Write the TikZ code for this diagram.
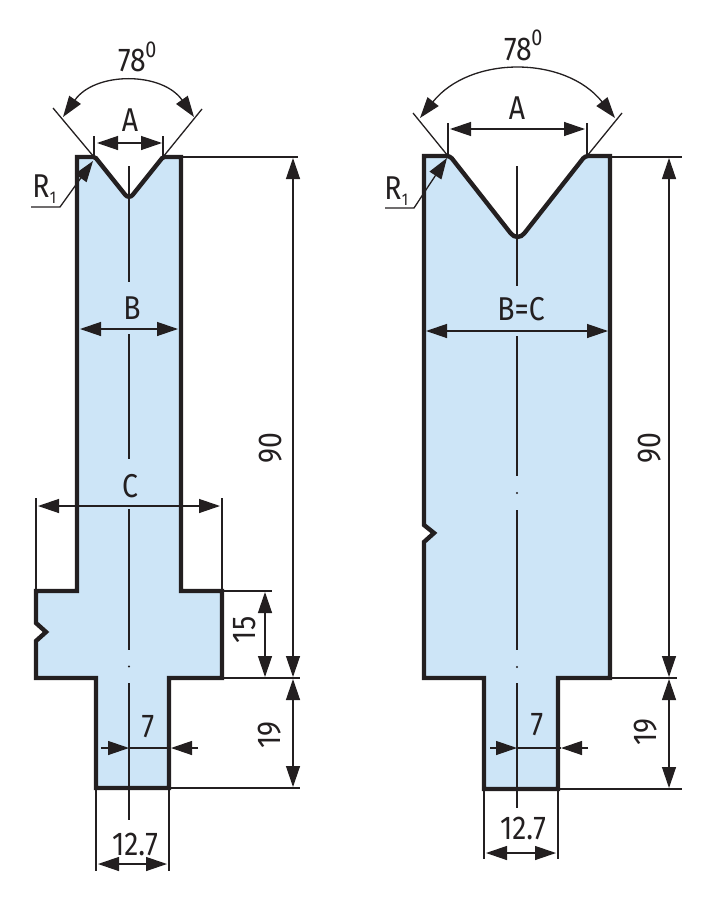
\documentclass[tikz,border=0pt]{standalone}
\usepackage{fontspec}
\setmainfont[FakeStretch=0.86]{Fira Sans}
\usetikzlibrary{arrows.meta}
\definecolor{ink}{HTML}{231F20}
\definecolor{toolblue}{HTML}{CDE5F7}
\tikzset{
  x=1pt,y=-1pt,
  outline/.style={draw=ink,fill=toolblue,line width=4.4pt,line join=miter,miter limit=10},
  thin line/.style={draw=ink,line width=1.3pt},
  dim both/.style={thin line,{Triangle[length=21pt,width=14pt]}-{Triangle[length=21pt,width=14pt]}},
  dim end/.style={thin line,-{Triangle[length=21pt,width=14pt]}},
  label/.style={inner sep=0pt,text=ink,font=\fontsize{33}{33}\selectfont},
  deglabel/.style={inner sep=0pt,text=ink,font=\fontsize{23}{23}\selectfont},
  sublabel/.style={inner sep=0pt,text=ink,font=\fontsize{17}{17}\selectfont},
  centre dot/.style={fill=ink,circle,inner sep=0pt,minimum size=2.2pt},
}
\begin{document}
\begin{tikzpicture}
\useasboundingbox (0,0) rectangle (712,902);
% ---------- left tool ----------
\draw[outline] (77,157) -- (94,157)
  [rounded corners=1.5pt] -- (95,157) [rounded corners=6pt] -- (129,199.5) [rounded corners=1.5pt] -- (163,157) [sharp corners]
  -- (181,157) -- (181,591) -- (222,591) -- (222,678) -- (169,678) -- (169,788) -- (96,788) -- (96,678)
  -- (36,678) -- (36,641) -- (46,632) -- (36,623) -- (36,591) -- (77,591) -- cycle;
% centre line
\draw[thin line] (129,166) -- (129,282);
\draw[thin line] (129,334) -- (129,459);
\draw[thin line] (129,509) -- (129,650);
\node[centre dot] (ldot) at (129,666.5) {};
\draw[thin line] (129,683) -- (129,820);
% angle
\draw[thin line] (53,108) -- (94,157);
\draw[thin line] (202,109) -- (163,157);
\draw[dim both] (63,117) .. controls (95,71.5) and (162,71.5) .. (194,117);
% A
\draw[thin line] (94,136) -- (94,157);
\draw[thin line] (163,136) -- (163,157);
\draw[dim both] (97,143) -- (162,143);
% R1
\draw[dim end] (31,207) -- (60,207) -- (93,161);
% B, C
\draw[dim both] (80,329) -- (178,329);
\draw[dim both] (38,506) -- (220,506);
\draw[thin line] (36,498) -- (36,590);
\draw[thin line] (222,498) -- (222,590);
% right dimensions
\draw[thin line] (181,157) -- (298,157);
\draw[thin line] (222,591) -- (272,591);
\draw[thin line] (222,678) -- (300,678);
\draw[thin line] (169,788) -- (300,788);
\draw[dim both] (293,158) -- (293,677);
\draw[dim both] (265,592) -- (265,677);
\draw[dim both] (293,679) -- (293,787);
% 7
\draw[dim end] (101,748) -- (129,748);
\draw[thin line] (129,748) -- (171,748);
\draw[dim end] (198,748) -- (171,748);
% 12.7
\draw[thin line] (96,790) -- (96,871);
\draw[thin line] (169,790) -- (169,871);
\draw[dim both] (98,864) -- (167,864);
% labels
\node[label] (l78) at (132,60) {78};
\node[deglabel] (l78o) at (151,50) {0};
\node[label] (lA) at (130,120) {A};
\node[label] (lR) at (41,186) {R};
\node[sublabel] (lR1) at (53,198) {1};
\node[label] (lB) at (132,308) {B};
\node[label] (lC) at (130,486) {C};
\node[label] (l7) at (148,727) {7};
\node[label] (l127) at (135,844) {12.7};
\node[label,rotate=90] (l90) at (271,448) {90};
\node[label,rotate=90] (l15) at (245,630) {15};
\node[label,rotate=90] (l19) at (270,735) {19};
% ---------- right tool ----------
\draw[outline] (424,156) -- (447,156)
  [rounded corners=3pt] -- (450,156) [rounded corners=11pt] -- (517.5,242) [rounded corners=3pt] -- (585,156) [sharp corners]
  -- (610,156) -- (610,678) -- (558,678) -- (558,789) -- (484,789) -- (484,678)
  -- (424,678) -- (424,542) -- (434,533) -- (424,525) -- cycle;
\draw[thin line] (517,166) -- (517,286);
\draw[thin line] (517,336) -- (517,476);
\node[centre dot] (rdota) at (517,493) {};
\draw[thin line] (517,510) -- (517,650);
\node[centre dot] (rdotb) at (517,667) {};
\draw[thin line] (517,683) -- (517,808);
\draw[thin line] (413,113) -- (448,156);
\draw[thin line] (622,113) -- (587,156);
\draw[dim both] (420,118) .. controls (470,55.4) and (565,55.4) .. (615,118);
\draw[thin line] (448,123) -- (448,157);
\draw[thin line] (587,123) -- (587,157);
\draw[dim both] (450,129) -- (585,129);
\draw[dim end] (385,208) -- (414,208) -- (447,158);
\draw[dim both] (426,331) -- (608,331);
\draw[thin line] (610,157) -- (682,157);
\draw[thin line] (610,678) -- (677,678);
\draw[thin line] (558,789) -- (682,789);
\draw[dim both] (669,158) -- (669,677);
\draw[dim both] (669,679) -- (669,788);
\draw[dim end] (490,748) -- (517,748);
\draw[thin line] (517,748) -- (561,748);
\draw[dim end] (588,748) -- (561,748);
\draw[thin line] (484,790) -- (484,859);
\draw[thin line] (558,790) -- (558,859);
\draw[dim both] (486,853) -- (556,853);
\node[label] (r78) at (518,49) {78};
\node[deglabel] (r78o) at (537,38) {0};
\node[label] (rA) at (517,108) {A};
\node[label] (rR) at (393,188) {R};
\node[sublabel] (rR1) at (405,200) {1};
\node[label] (rBC) at (521,309) {B=C};
\node[label] (r7) at (537,725) {7};
\node[label] (r127) at (523,828) {12.7};
\node[label,rotate=90] (r90) at (650,448) {90};
\node[label,rotate=90] (r19) at (646,732) {19};
\end{tikzpicture}
\end{document}
